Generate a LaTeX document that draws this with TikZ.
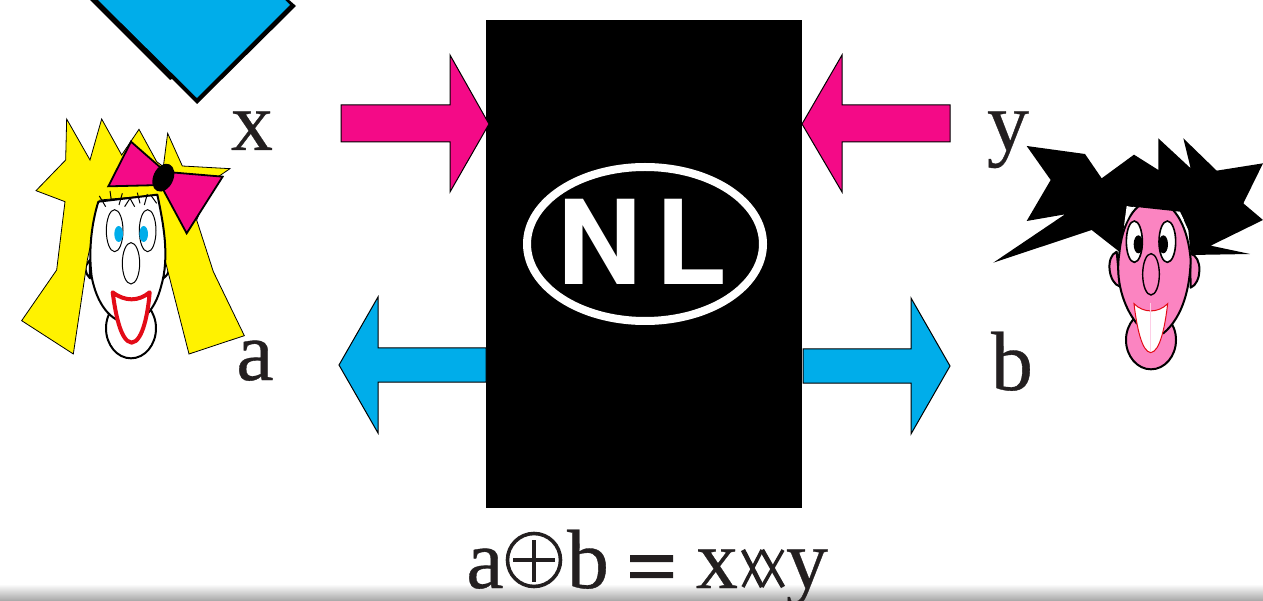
\documentclass[tikz,border=0pt]{standalone}
\usepackage{fontspec}
\setmainfont{Liberation Serif}
\newfontfamily\heavysans{TeX Gyre Heros}
\definecolor{cyanblue}{HTML}{00ADEA}
\definecolor{hotpink}{HTML}{F40A87}
\definecolor{hairyellow}{HTML}{FFF200}
\definecolor{skinpink}{HTML}{FB84C1}
\definecolor{inkred}{HTML}{E30B17}
\definecolor{inktext}{HTML}{231F20}
% serif letters with a slightly heavier stroke
\newcommand{\inked}[1]{\special{pdf:code 2 Tr 0.35 w}#1\special{pdf:code 0 Tr 1 w}}
\tikzset{
  lbl/.style={inner sep=0pt,anchor=base,text=inktext,font=\fontsize{84}{84}\selectfont},
  blockarrow/.style={draw=black,line width=1pt,line join=miter},
  outline/.style={draw=black,line width=2pt,line join=round},
  fineline/.style={draw=black,line width=1pt},
}
\begin{document}
\begin{tikzpicture}[x=1pt,y=-1pt]
\useasboundingbox (0,0) rectangle (1263,601);
% strip along the lower edge
\shade[top color=white,bottom color=black!35] (0,584) rectangle (1263,601);

% central box
\fill[black] (486,20) rectangle (802,508);
\draw[white,line width=8pt] (645,244) ellipse (118 and 77);
\node[inner sep=0pt,text=white,font=\heavysans\bfseries\fontsize{117}{117}\selectfont] (nl) at (642,242) {N\hspace{14pt}L};

% block arrows
\path[blockarrow,fill=hotpink] (341,105) -- (450,105) -- (450,55) -- (489,124) -- (450,192) -- (450,142) -- (341,142) -- cycle;
\path[blockarrow,fill=hotpink] (950,105) -- (842,105) -- (842,55) -- (802,124) -- (842,192) -- (842,142) -- (950,142) -- cycle;
\path[blockarrow,fill=cyanblue] (486,348) -- (378,348) -- (378,297) -- (339,365) -- (378,433) -- (378,382) -- (486,382) -- cycle;
\path[blockarrow,fill=cyanblue] (803,349) -- (911,349) -- (911,298) -- (950,366) -- (911,434) -- (911,383) -- (803,383) -- cycle;

% cut-off blue square at the top, with its heavier lower-left edge
\fill[black,line join=round] (89,-1) -- (170,80) -- (172,79) -- (197,104) -- (296,6) -- (288,-1) -- cycle;
\fill[cyanblue] (97,-1) -- (197,98) -- (290,5) -- (284,-1) -- cycle;

% labels beside the arrows
\node[lbl] (lx) at (252,150) {\inked{x}};
\node[lbl] (ly) at (1008,150) {\inked{y}};
\node[lbl] (la) at (255,380) {\inked{a}};
\node[lbl] (lb) at (1012,390) {\inked{b}};

% lower formula
\node[lbl] (fa) at (485,588) {\inked{a}};
\draw[inktext,line width=3.6pt] (534,560) circle (26.5);
\draw[inktext,line width=3.6pt] (513,560) -- (555,560) (534,540) -- (534,582);
\node[lbl] (fb) at (588,588) {\inked{b}};
\fill[inktext] (630,555) rectangle (673,562) (630,572) rectangle (673,578);
\node[lbl] (fx) at (717,588) {\inked{x}};
\draw[inktext,line width=4.6pt] (743,550) -- (762,587) (762,550) -- (783,587);
\draw[inktext,line width=3.4pt] (762,550) -- (743,587) (783,550) -- (762,587);
\node[lbl] (fy) at (807,588) {\inked{y}};

% girl, laid out at three times scale
\begin{scope}[x=0.33333pt,y=-0.33333pt,shift={(0pt,-90pt)}]
  \draw[outline,fill=white] (393,715) ellipse (75 and 90);
  \draw[outline,fill=white] (270,510) .. controls (250,530) and (255,550) .. (270,565) -- cycle;
  \draw[outline,fill=white] (495,510) .. controls (515,530) and (510,550) .. (490,565) -- cycle;
  \path[draw=black,line width=0.8pt,fill=hairyellow,line join=miter]
    (200,87) -- (197,210) -- (108,302) -- (195,335) -- (170,540) -- (65,692) -- (220,792) -- (262,510)
    -- (300,330) -- (470,315) -- (495,510) -- (567,792) -- (733,737) -- (640,545) -- (590,390)
    -- (640,270) -- (690,236) -- (547,228) -- (503,130) -- (490,230) -- (470,215) -- (417,118) -- (365,195) -- (305,87) -- (270,210) -- cycle;
  \path[outline,fill=white]
    (295,335) -- (472,314) .. controls (490,400) and (510,500) .. (483,590)
    .. controls (465,660) and (425,700) .. (385,700) .. controls (330,695) and (290,640) .. (275,560)
    .. controls (265,480) and (275,400) .. (295,335) -- cycle;
  % eyes and nose
  \path[fineline,fill=white] (344,422) ellipse (25 and 63);
  \path[fineline,fill=white] (443,422) ellipse (25 and 63);
  \fill[cyanblue] (356,432) ellipse (13 and 24);
  \fill[cyanblue] (431,432) ellipse (13 and 24);
  \path[fineline,fill=white] (393,520) ellipse (26 and 62);
  % fringe
  \path[fineline]
    (298,318) -- (317,350) (330,303) -- (334,330) (367,310) -- (357,345)
    (374,350) -- (390,325) -- (404,350) (412,308) -- (420,340) (442,312) -- (433,345) (452,315) -- (470,340);
  % mouth
  \draw[draw=inkred,line width=4pt,line join=round,fill=white]
    (338,607) .. controls (375,635) and (415,635) .. (449,607) .. controls (445,660) and (430,755) .. (395,758)
    .. controls (360,755) and (345,660) .. (338,607) -- cycle;
  % bow
  \path[draw=black,line width=1.8pt,fill=hotpink,line join=miter] (393,155) -- (490,240) -- (490,285) -- (325,289) -- cycle;
  \path[draw=black,line width=1.8pt,fill=hotpink,line join=miter] (490,245) -- (668,260) -- (560,430) -- (490,300) -- cycle;
  \fill[black,rotate around={-25:(490,263)}] (490,263) ellipse (30 and 44);
\end{scope}

% boy, laid out at three times scale
\begin{scope}[x=0.33333pt,y=-0.33333pt,shift={(980pt,-120pt)}]
  \draw[outline,fill=skinpink] (513,660) ellipse (75 and 88);
  \draw[outline,fill=skinpink] (410,395) .. controls (375,410) and (385,490) .. (420,500) -- cycle;
  \draw[outline,fill=skinpink] (630,400) .. controls (670,410) and (665,490) .. (632,503) -- cycle;
  \path[outline,fill=skinpink]
    (525,240) .. controls (590,250) and (625,330) .. (632,420)
    .. controls (630,500) and (610,590) .. (550,640) -- (470,610)
    .. controls (430,560) and (405,480) .. (418,400) .. controls (425,320) and (460,240) .. (525,240) -- cycle;
  \fill[black] (140,78) -- (315,102) -- (365,175) -- (462,104) -- (535,150) -- (535,55) -- (632,145) -- (610,55) -- (710,152) -- (849,130) -- (790,250) -- (849,300)
    -- (692,377) -- (810,402) -- (632,405) -- (625,330) -- (600,275) -- (460,260) -- (432,320) -- (418,395) -- (335,330) -- (40,428) -- (255,283) -- (140,303) -- (212,180) -- cycle;
  \fill[white] (440,258) -- (460,262) -- (432,318) -- cycle (600,277) -- (612,300) -- (606,298) -- cycle;
  \draw[black,line width=1.6pt,fill=white] (463,365) ellipse (24 and 62);
  \draw[black,line width=1.6pt,fill=white] (562,365) ellipse (25 and 62);
  \fill[black] (475,373) ellipse (14 and 27);
  \fill[black] (550,373) ellipse (14 and 27);
  \draw[black,line width=1.4pt,fill=skinpink] (513,463) ellipse (25 and 62);
  \draw[inkred,line width=1pt,fill=white] (462,551) .. controls (490,580) and (535,580) .. (563,551) .. controls (555,620) and (540,695) .. (512,698) .. controls (485,695) and (470,620) .. (462,551) -- cycle;
  \draw[skinpink!40,line width=0.6pt] (512,550) -- (512,696);
\end{scope}
\end{tikzpicture}
\end{document}
